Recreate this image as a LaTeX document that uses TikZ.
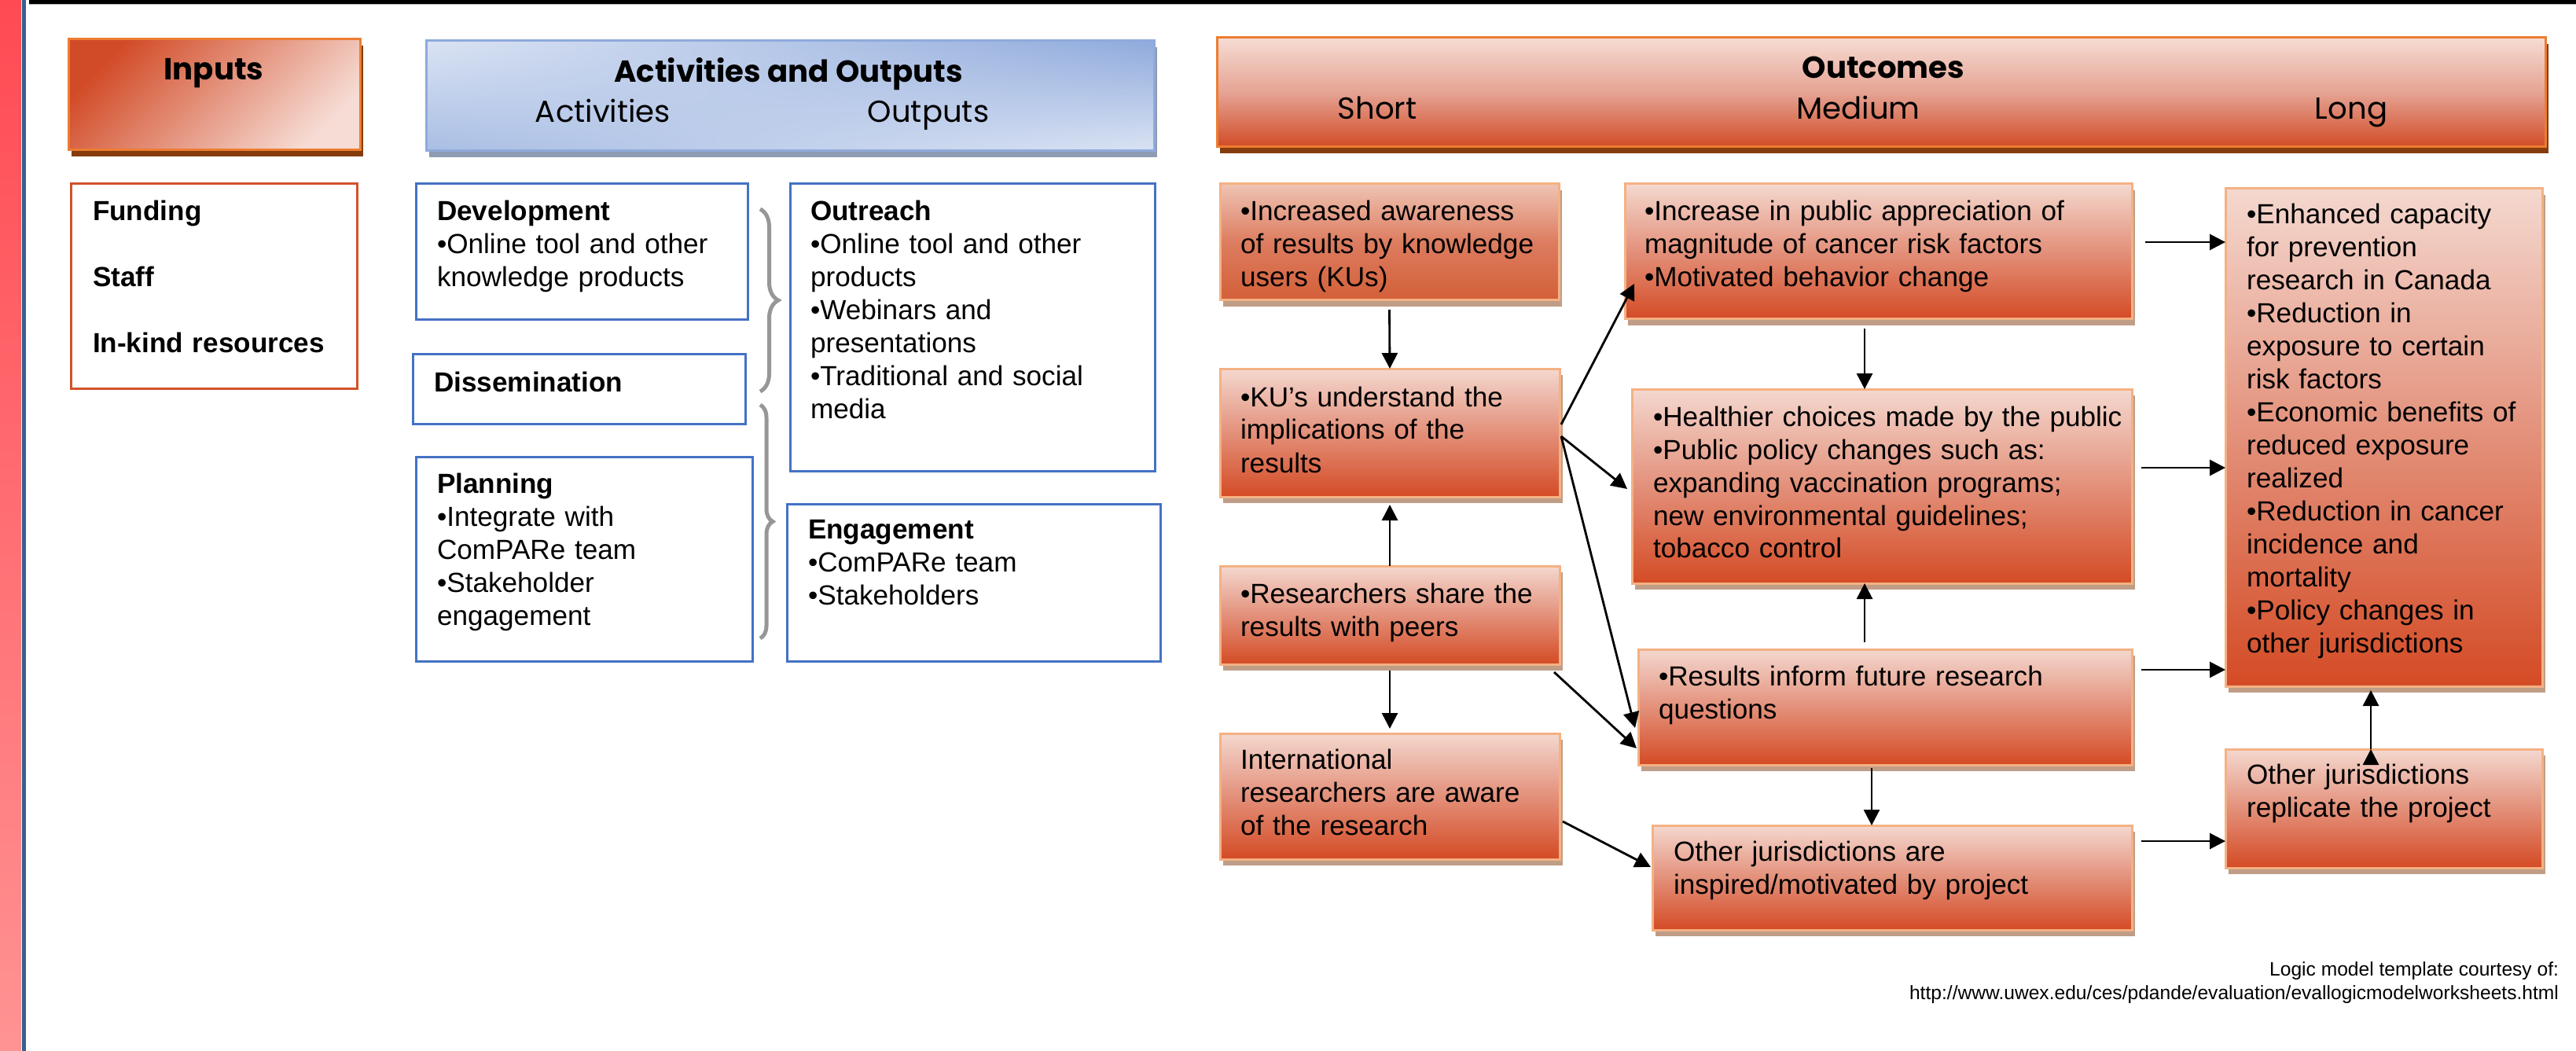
\documentclass[tikz,border=0pt]{standalone}
\usepackage{fontspec}
\setmainfont{Liberation Sans}
\newfontfamily\headfont{Poppins}
\usetikzlibrary{arrows.meta, calc, shadows, shadings, decorations.pathreplacing}

\definecolor{stripred}{HTML}{FF4A53}
\definecolor{stripredlight}{HTML}{FF9393}
\definecolor{stripblue}{HTML}{3B5E8C}
\definecolor{hborder}{HTML}{ED7D31}
\definecolor{hdark}{HTML}{D24B27}
\definecolor{hmid}{HTML}{E5A393}
\definecolor{hlight}{HTML}{F6DCD4}
\definecolor{hshadow}{HTML}{843C0C}
\definecolor{bhlight}{HTML}{DAE3F3}
\definecolor{bhmid}{HTML}{A9BEE4}
\definecolor{bhdark}{HTML}{8FAADC}
\definecolor{bhshadow}{HTML}{8E9BB2}
\definecolor{bborder}{HTML}{4472C4}
\definecolor{fborder}{HTML}{D2522A}
\definecolor{oborder}{HTML}{F4B183}
\definecolor{otop}{HTML}{F4D8CF}
\definecolor{omid}{HTML}{E3907A}
\definecolor{obottom}{HTML}{D44B25}
\definecolor{oshadow}{HTML}{BF9D86}
\definecolor{awtop}{HTML}{EFC4B4}
\definecolor{awbottom}{HTML}{D35F38}
\definecolor{bracegray}{HTML}{979797}

\tikzset{
  >={Triangle[length=0.2cm, width=0.2cm]}, % solid arrow heads
  every node/.style={inner sep=0pt, outer sep=0pt},
  boxsize/.style 2 args={minimum width=#1cm, minimum height=#2cm},
  % header boxes
  inhead/.style={draw=hborder, line width=0.03cm, top color=hdark, bottom color=hlight, shading angle=45,
    drop shadow={shadow xshift=0.04cm, shadow yshift=-0.08cm, fill=hshadow, opacity=1}},
  acthead/.style={draw=bhdark, line width=0.03cm, upper left=bhlight, upper right=bhdark,
    lower left=bhmid, lower right=bhlight,
    drop shadow={shadow xshift=0.04cm, shadow yshift=-0.08cm, fill=bhshadow, opacity=1}},
  outhead/.style={draw=hborder, line width=0.03cm, top color=hlight, bottom color=hdark, middle color=hmid,
    drop shadow={shadow xshift=0.04cm, shadow yshift=-0.08cm, fill=hshadow, opacity=1}},
  % body boxes
  fbox/.style={draw=fborder, line width=0.03cm, fill=white, anchor=north west},
  bbox/.style={draw=bborder, line width=0.03cm, fill=white, anchor=north west},
  obox/.style={draw=oborder, line width=0.03cm, top color=otop, bottom color=obottom, middle color=omid,
    anchor=north west,
    drop shadow={shadow xshift=0.04cm, shadow yshift=-0.08cm, fill=oshadow, opacity=1}},
  % texts
  txt/.style={anchor=base west, text width=6.5cm, align=left, font=\fontsize{10}{11.95}\selectfont},
  htxt/.style={anchor=base, font=\headfont\fontsize{11}{13}\selectfont},
  brc/.style={decorate, draw=bracegray, line width=0.05cm},
  arr/.style={->, line width=0.8pt},
}

\begin{document}
\begin{tikzpicture}[x=1cm, y=-1cm]
  \useasboundingbox (0,0) rectangle (32.77,13.37);
  \fill[white] (0,0) rectangle (32.77,13.37);

  % slide frame
  \shade[top color=stripred, bottom color=stripredlight] (0,0) rectangle (0.27,13.37);
  \fill[stripblue] (0.28,0) rectangle (0.33,13.37);
  \fill[black] (0.37,0) rectangle (32.77,0.05);
  \fill[gray!60] (0.37,0.05) rectangle (32.77,0.065);

  % headers
  \node[inhead, boxsize={3.71}{1.41}, anchor=north west] (inputs) at (0.87,0.50) {};
  \node[acthead, boxsize={9.26}{1.40}, anchor=north west] (actout) at (5.42,0.52) {};
  \node[outhead, boxsize={16.90}{1.39}, anchor=north west] (outc) at (15.48,0.48) {};

  \node[htxt] (inputs-t) at (2.72,1.02) {\bfseries Inputs};
  \node[htxt] (actout-t) at (10.03,1.05) {\bfseries Activities and Outputs};
  \node[htxt] (act-t) at (7.67,1.56) {Activities};
  \node[htxt] (out-t) at (11.81,1.56) {Outputs};
  \node[htxt] (outc-t) at (23.96,1.00) {\bfseries Outcomes};
  \node[htxt] (short-t) at (17.52,1.52) {Short};
  \node[htxt] (medium-t) at (23.64,1.52) {Medium};
  \node[htxt] (long-t) at (29.91,1.52) {Long};

  % inputs
  \node[fbox, boxsize={3.64}{2.60}] (fund) at (0.90,2.34) {};
  \node[txt, font=\fontsize{10}{11.95}\selectfont\bfseries] (fund-t) at (1.18,2.81)
    {Funding\\[0.42cm]Staff\\[0.42cm]In-kind resources};

  % activities and outputs
  \node[bbox, boxsize={4.22}{1.73}] (dev) at (5.29,2.34) {};
  \node[bbox, boxsize={4.23}{0.88}] (diss) at (5.25,4.51) {};
  \node[bbox, boxsize={4.28}{2.60}] (plan) at (5.29,5.81) {};
  \node[bbox, boxsize={4.64}{3.65}] (outr) at (10.05,2.34) {};
  \node[bbox, boxsize={4.75}{2.00}] (eng) at (10.01,6.41) {};

  \node[txt] (dev-t) at (5.56,2.81) {\textbf{Development}\\•Online tool and other\\knowledge products};
  \node[txt] (diss-t) at (5.52,4.98) {\textbf{Dissemination}};
  \node[txt] (plan-t) at (5.56,6.27) {\textbf{Planning}\\•Integrate with\\ComPARe team\\•Stakeholder\\engagement};
  \node[txt] (outr-t) at (10.31,2.81) {\textbf{Outreach}\\•Online tool and other\\products\\•Webinars and\\presentations\\•Traditional and social\\media};
  \node[txt] (eng-t) at (10.28,6.85) {\textbf{Engagement}\\•ComPARe team\\•Stakeholders};

  \coordinate (br1a) at (9.67,2.66);
  \coordinate (br1b) at (9.67,4.98);
  \coordinate (br2a) at (9.67,5.15);
  \coordinate (br2b) at (9.67,8.12);
  \draw[brc, decoration={brace, amplitude=0.23cm}] (br1a) -- (br1b);
  \draw[brc, decoration={brace, amplitude=0.16cm}] (br2a) -- (br2b);

  % outcomes: short
  \node[obox, top color=awtop, bottom color=awbottom, middle color=omid!60!awbottom, boxsize={4.31}{1.48}] (aw) at (15.52,2.34) {};
  \node[obox, boxsize={4.32}{1.63}] (ku) at (15.52,4.69) {};
  \node[obox, boxsize={4.32}{1.25}] (rs) at (15.52,7.20) {};
  \node[obox, boxsize={4.32}{1.60}] (intl) at (15.52,9.33) {};
  % medium
  \node[obox, boxsize={6.45}{1.72}] (app) at (20.67,2.34) {};
  \node[obox, boxsize={6.36}{2.47}] (hc) at (20.76,4.95) {};
  \node[obox, boxsize={6.28}{1.47}] (ri) at (20.84,8.26) {};
  \node[obox, boxsize={6.10}{1.33}] (oj) at (21.02,10.50) {};
  % long
  \node[obox, boxsize={4.03}{6.33}] (lt) at (28.31,2.40) {};
  \node[obox, boxsize={4.03}{1.51}] (rep) at (28.31,9.53) {};

  \node[txt] (aw-t) at (15.78,2.81) {•Increased awareness\\of results by knowledge\\users (KUs)};
  \node[txt] (ku-t) at (15.78,5.17) {•KU’s understand the\\implications of the\\results};
  \node[txt] (rs-t) at (15.78,7.67) {•Researchers share the\\results with peers};
  \node[txt] (intl-t) at (15.78,9.78) {International\\researchers are aware\\of the research};
  \node[txt] (app-t) at (20.92,2.81) {•Increase in public appreciation of\\magnitude of cancer risk factors\\•Motivated behavior change};
  \node[txt] (hc-t) at (21.03,5.42) {•Healthier choices made by the public\\•Public policy changes such as:\\expanding vaccination programs;\\new environmental guidelines;\\tobacco control};
  \node[txt] (ri-t) at (21.10,8.72) {•Results inform future research\\questions};
  \node[txt] (oj-t) at (21.29,10.95) {Other jurisdictions are\\inspired/motivated by project};
  \node[txt] (lt-t) at (28.58,2.85) {•Enhanced capacity\\for prevention\\research in Canada\\•Reduction in\\exposure to certain\\risk factors\\•Economic benefits of\\reduced exposure\\realized\\•Reduction in cancer\\incidence and\\mortality\\•Policy changes in\\other jurisdictions};
  \node[txt] (rep-t) at (28.58,9.97) {Other jurisdictions\\replicate the project};

  % arrow start points
  \coordinate (k1) at ($(ku.east)+(0.02,-0.105)$);
  \coordinate (k2) at ($(ku.east)+(0.02,0.045)$);
  \coordinate (s1) at ($(app.south)+(-0.175,0.12)$);
  \coordinate (s2) at ($(ri.north)+(-0.26,-0.09)$);
  \coordinate (s3) at ($(ri.south)+(-0.17,0.04)$);
  \coordinate (s4) at ($(app.east)+(0.17,-0.12)$);
  \coordinate (s5) at ($(hc.east)+(0.12,-0.235)$);
  \coordinate (s6) at ($(ri.east)+(0.12,-0.475)$);
  \coordinate (s7) at ($(oj.east)+(0.12,-0.465)$);
  \coordinate (s8) at ($(rep.north)+(-0.165,0)$);

  \draw[arr]
    ($(aw.south)+(0,0.12)$) edge (ku.north)
    (rs.north) edge ($(ku.south)+(0,0.10)$)
    ($(rs.south)+(0,0.08)$) edge ($(intl.north)+(0,-0.06)$)

    (k1) edge ($(app.south west)+(0.12,-0.45)$)
    (k2) edge ($(hc.west)+(-0.06,0.035)$)
    (k2) edge ($(ri.west)+(-0.04,0.265)$)
    ($(rs.south east)+(-0.07,0.10)$) edge ($(ri.west)+(-0.02,0.525)$)
    ($(intl.east)+(0.04,0.32)$) edge ($(oj.west)+(-0.02,-0.135)$)

    (s1) edge (s1 |- hc.north)
    (s2) edge (s2 |- hc.south)
    (s3) edge (s3 |- oj.north)

    (s4) edge (s4 -| lt.west)
    (s5) edge (s5 -| lt.west)
    (s6) edge (s6 -| lt.west)
    (s7) edge (s7 -| rep.west)
    (s8) edge ($(s8 |- lt.south)+(0,0.05)$)
    ;

  \node[anchor=north east, align=right, font=\fontsize{7}{8.5}\selectfont] (credit) at (32.55,12.24)
    {Logic model template courtesy of:\\http://www.uwex.edu/ces/pdande/evaluation/evallogicmodelworksheets.html};
\end{tikzpicture}
\end{document}
